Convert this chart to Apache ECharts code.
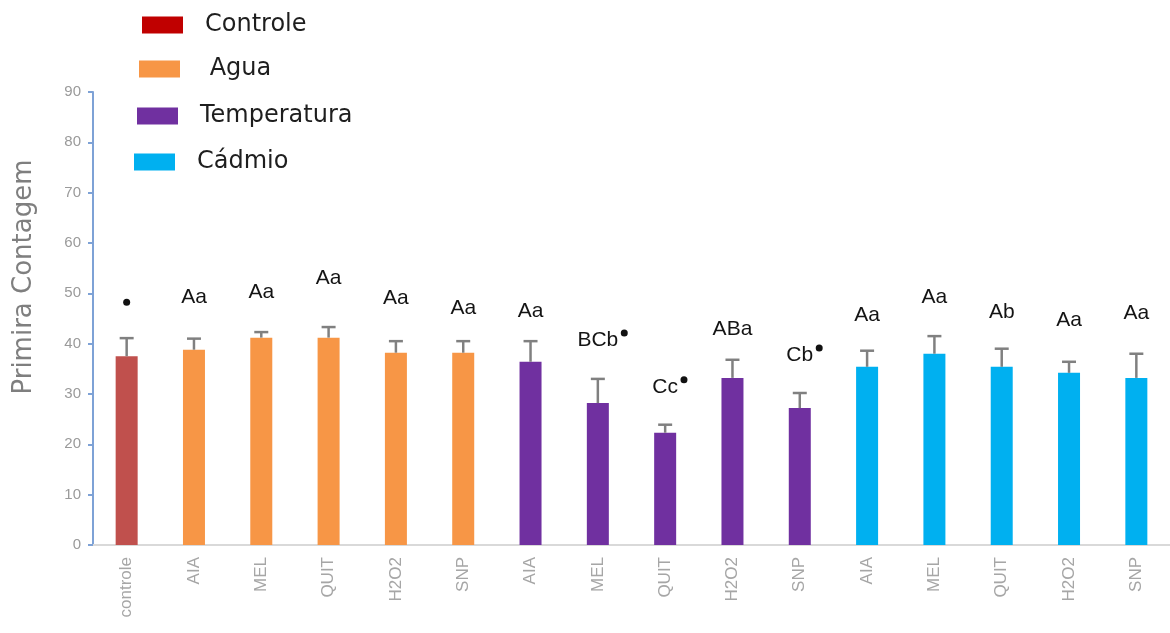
<!DOCTYPE html>
<html>
<head>
<meta charset="utf-8">
<script src="https://cdn.jsdelivr.net/npm/echarts@6/dist/echarts.min.js"></script>
<style>
  html, body { margin: 0; padding: 0; background: #ffffff; }
  #chart { width: 1170px; height: 633px; }
</style>
</head>
<body>
<div id="chart"></div>
<script>
// ---- data ----
const categories = ['controle', 'AIA', 'MEL', 'QUIT', 'H2O2', 'SNP',
                    'AIA', 'MEL', 'QUIT', 'H2O2', 'SNP',
                    'AIA', 'MEL', 'QUIT', 'H2O2', 'SNP'];
const groups = ['Controle', 'Agua', 'Temperatura', 'Cádmio'];
const groupOf = [0, 1, 1, 1, 1, 1, 2, 2, 2, 2, 2, 3, 3, 3, 3, 3];
const means = [37.5, 38.8, 41.2, 41.2, 38.2, 38.2,
               36.4, 28.2, 22.3, 33.2, 27.2,
               35.4, 38.0, 35.4, 34.2, 33.2];
const errors = [3.6, 2.2, 1.1, 2.1, 2.3, 2.3,
                4.1, 4.8, 1.6, 3.6, 3.0,
                3.2, 3.5, 3.6, 2.2, 4.8];
const letters = ['', 'Aa', 'Aa', 'Aa', 'Aa', 'Aa',
                 'Aa', 'BCb', 'Cc', 'ABa', 'Cb',
                 'Aa', 'Aa', 'Ab', 'Aa', 'Aa'];
const flagged = [1, 0, 0, 0, 0, 0, 0, 1, 1, 0, 1, 0, 0, 0, 0, 0];

// ---- styling ----
const barColors = ['#c0504d', '#f79646', '#7030a0', '#00b0f0'];
const legendColors = ['#c00000', '#f79646', '#7030a0', '#00b0f0'];
const legendLeft = [142, 139, 137, 134];
const legendTop = [13, 57, 104, 150];
// distance (px) from the top of each error bar to the centre of its letter label
const labelLift = [36, 41, 40, 49, 43, 33, 30, 39, 38, 31, 38, 36, 39, 36, 42, 41];
const labelFont = '21px "Liberation Sans"';

const measureCtx = document.createElement('canvas').getContext('2d');
measureCtx.font = labelFont;

const chart = echarts.init(document.getElementById('chart'), null, { renderer: 'canvas' });

const barSeries = groups.map((g, k) => ({
  type: 'bar',
  name: g,
  stack: 'all',
  barWidth: 22,
  itemStyle: { color: barColors[k] },
  data: means.map((v, i) => (groupOf[i] === k ? v : '-')),
  z: 2
}));

const errorSeries = {
  type: 'custom',
  name: 'erro',
  z: 3,
  data: means.map((m, i) => [i, m, m + errors[i]]),
  encode: { x: 0, y: [1, 2] },
  renderItem: function (params, api) {
    const i = api.value(0);
    const base = api.coord([i, api.value(1)]);
    const top = api.coord([i, api.value(2)]);
    const cap = 7;
    const style = { stroke: '#808080', lineWidth: 2.5 };
    return {
      type: 'group',
      children: [
        { type: 'line', shape: { x1: base[0], y1: base[1], x2: top[0], y2: top[1] }, style: style },
        { type: 'line', shape: { x1: top[0] - cap, y1: top[1], x2: top[0] + cap, y2: top[1] }, style: style }
      ]
    };
  }
};

const labelSeries = {
  type: 'custom',
  name: 'letras',
  z: 4,
  silent: true,
  data: means.map((m, i) => [i, m + errors[i]]),
  encode: { x: 0, y: 1 },
  renderItem: function (params, api) {
    const i = api.value(0);
    const p = api.coord([i, api.value(1)]);
    const cy = p[1] - labelLift[i];
    const txt = letters[i];
    const children = [];
    if (txt) {
      children.push({
        type: 'text',
        style: {
          x: p[0], y: cy, text: txt, font: labelFont, fill: '#141414',
          align: 'center', verticalAlign: 'middle'
        }
      });
      if (flagged[i]) {
        const w = measureCtx.measureText(txt).width;
        children.push({
          type: 'circle',
          shape: { cx: p[0] + w / 2 + 6, cy: cy - 7, r: 3.5 },
          style: { fill: '#111111' }
        });
      }
    } else if (flagged[i]) {
      children.push({
        type: 'circle',
        shape: { cx: p[0], cy: cy, r: 3.5 },
        style: { fill: '#111111' }
      });
    }
    return { type: 'group', children: children };
  }
};

const option = {
  animation: false,
  backgroundColor: '#ffffff',
  grid: { left: 93, right: -10, top: 92, bottom: 88, containLabel: false },
  legend: groups.map((g, k) => ({
    data: [{ name: g, itemStyle: { color: legendColors[k] } }],
    left: legendLeft[k],
    top: legendTop[k],
    padding: 0,
    icon: 'rect',
    itemWidth: 41,
    itemHeight: 17,
    selectedMode: false,
    formatter: name => (name === 'Agua' ? ' Agua' : name),
    textStyle: {
      fontFamily: 'DejaVu Sans',
      fontSize: 24,
      lineHeight: 24,
      color: '#1e1e1e',
      padding: [0, 0, 0, 17]
    }
  })),
  xAxis: {
    type: 'category',
    data: categories,
    axisTick: { show: false },
    axisLine: { lineStyle: { color: '#d9d9d9', width: 2 } },
    axisLabel: {
      interval: 0,
      rotate: 90,
      margin: 12,
      fontFamily: 'Liberation Sans',
      fontSize: 17,
      color: '#a6a6a6'
    }
  },
  yAxis: {
    type: 'value',
    min: 0,
    max: 90,
    interval: 10,
    splitLine: { show: false },
    axisLine: { show: true, lineStyle: { color: '#7ea2d6', width: 2 } },
    axisTick: { show: true, length: 5, lineStyle: { color: '#7ea2d6', width: 2 } },
    axisLabel: {
      margin: 12,
      fontFamily: 'Liberation Sans',
      fontSize: 15,
      color: '#9a9a9a'
    }
  },
  graphic: [{
    type: 'text',
    x: 24,
    y: 277,
    rotation: Math.PI / 2,
    style: {
      text: 'Primira Contagem',
      font: '26px "DejaVu Sans"',
      fill: '#7f7f7f',
      align: 'center',
      verticalAlign: 'middle'
    }
  }],
  series: barSeries.concat([errorSeries, labelSeries])
};

chart.setOption(option);
</script>
</body>
</html>
